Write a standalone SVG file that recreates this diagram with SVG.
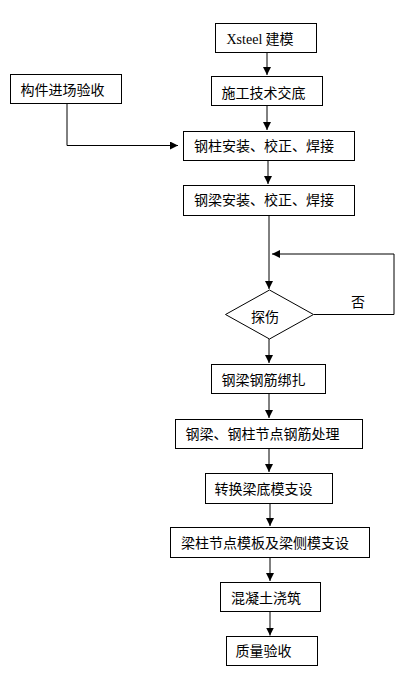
<svg xmlns="http://www.w3.org/2000/svg" width="412" height="700" viewBox="0 0 412 700">
<style>
.box{fill:#fff;stroke:#000;stroke-width:1}
.t{font-family:"Noto Sans CJK SC","Liberation Sans",sans-serif;font-size:14px;fill:#000}
.lat{font-family:"Liberation Serif",serif}
.c{fill:none;stroke:#000;stroke-width:1}
</style>
<defs>
<marker id="ah" markerUnits="userSpaceOnUse" markerWidth="8" markerHeight="8" refX="8" refY="4" orient="auto">
<path d="M0,0 L8,4 L0,8 z" fill="#000"/>
</marker>
</defs>
<rect width="412" height="700" fill="#fff"/>
<g id="connectors">
<path class="c" d="M267,52 V75" marker-end="url(#ah)"/>
<path class="c" d="M267,105 V130" marker-end="url(#ah)"/>
<path class="c" d="M67,103 V145.5 H178" marker-end="url(#ah)"/>
<path class="c" d="M268,160 V184" marker-end="url(#ah)"/>
<path class="c" d="M269,215 V289" marker-end="url(#ah)"/>
<path class="c" d="M314,314.5 H394 V254 H272" marker-end="url(#ah)"/>
<path class="c" d="M269,339 V363" marker-end="url(#ah)"/>
<path class="c" d="M269,393 V418" marker-end="url(#ah)"/>
<path class="c" d="M269,448 V472" marker-end="url(#ah)"/>
<path class="c" d="M270,503 V526" marker-end="url(#ah)"/>
<path class="c" d="M270,557 V581" marker-end="url(#ah)"/>
<path class="c" d="M270,611 V635.5" marker-end="url(#ah)"/>
</g>
<g id="n1"><rect class="box" x="215.5" y="23.5" width="101" height="29"/><text class="t" x="226.5" y="43.5"><tspan class="lat">Xsteel</tspan> 建模</text></g>
<g id="n2"><rect class="box" x="211.5" y="76.5" width="111" height="29"/><text class="t" x="221.5" y="97.5">施工技术交底</text></g>
<g id="n3"><rect class="box" x="10.5" y="74.5" width="111" height="29"/><text class="t" x="20.5" y="95">构件进场验收</text></g>
<g id="n4"><rect class="box" x="183.5" y="131.5" width="171" height="29"/><text class="t" x="194" y="151">钢柱安装、校正、焊接</text></g>
<g id="n5"><rect class="box" x="183.5" y="185.5" width="171" height="30"/><text class="t" x="194" y="205">钢梁安装、校正、焊接</text></g>
<g id="n6"><path class="box" d="M225.5,314.5 L269.5,290 L313.5,314.5 L269.5,339 z"/><text class="t" x="251" y="321.5">探伤</text></g>
<g id="lbl"><text class="t" x="351" y="306.5">否</text></g>
<g id="n7"><rect class="box" x="211.5" y="364.5" width="114" height="29"/><text class="t" x="221.5" y="384.5">钢梁钢筋绑扎</text></g>
<g id="n8"><rect class="box" x="175.5" y="419.5" width="187" height="29"/><text class="t" x="185.5" y="439">钢梁、钢柱节点钢筋处理</text></g>
<g id="n9"><rect class="box" x="205.5" y="473.5" width="127" height="30"/><text class="t" x="214.5" y="493.5">转换梁底模支设</text></g>
<g id="n10"><rect class="box" x="170.5" y="527.5" width="199" height="30"/><text class="t" x="181" y="548">梁柱节点模板及梁侧模支设</text></g>
<g id="n11"><rect class="box" x="220.5" y="582.5" width="100" height="29"/><text class="t" x="231" y="603">混凝土浇筑</text></g>
<g id="n12"><rect class="box" x="226.5" y="636.5" width="91" height="29"/><text class="t" x="235.5" y="656">质量验收</text></g>
</svg>
